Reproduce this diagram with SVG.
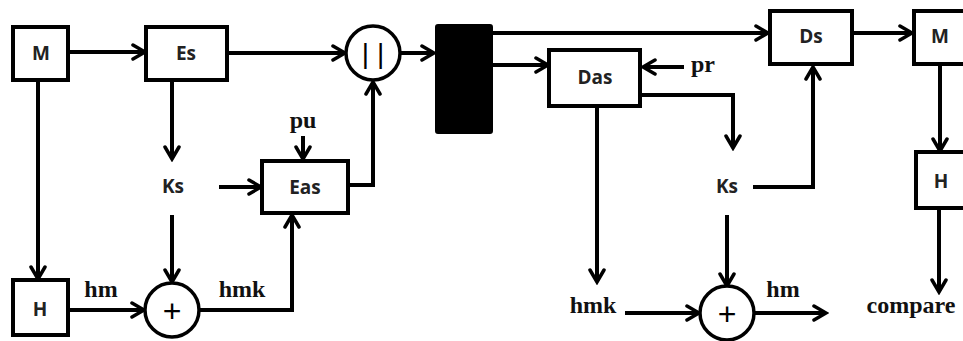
<svg xmlns="http://www.w3.org/2000/svg" width="963" height="341" viewBox="0 0 963 341">
<style>
.box{fill:#fff;stroke:#000;stroke-width:4}
.blk{fill:#000;stroke:#000;stroke-width:2}
.circ{fill:#fff;stroke:#000;stroke-width:3.5}
.ln{fill:none;stroke:#000;stroke-width:4;stroke-linejoin:miter}
.arr{marker-end:url(#ah)}
.lbl{font-family:"Open Sans","Liberation Sans",sans-serif;font-weight:bold;font-size:19px;text-anchor:middle;fill:#222}
.sig{font-family:"Liberation Serif",serif;font-weight:bold;font-size:24px;fill:#111;text-anchor:middle}
.op{font-family:"Liberation Sans",sans-serif;font-size:32px;text-anchor:middle;fill:#000}
</style>
<defs>
<marker id="ah" markerUnits="userSpaceOnUse" markerWidth="18" markerHeight="18" viewBox="0 0 18 18" refX="15" refY="9" orient="auto">
<path d="M3,2 L15,9 L3,16" fill="none" stroke="#000" stroke-width="3.5" stroke-linecap="round"/>
</marker>
</defs>
<rect width="963" height="341" fill="#fff"/>
<g id="connectors">
<line class="ln arr" x1="68" y1="52" x2="145" y2="52"/>
<line class="ln arr" x1="227" y1="53" x2="345" y2="53"/>
<line class="ln arr" x1="38" y1="80" x2="38" y2="279"/>
<line class="ln arr" x1="172" y1="80" x2="172" y2="159"/>
<line class="ln arr" x1="303" y1="136" x2="303" y2="159"/>
<line class="ln arr" x1="219" y1="187" x2="261" y2="187"/>
<line class="ln arr" x1="172" y1="215" x2="172" y2="282"/>
<line class="ln arr" x1="68" y1="310" x2="144" y2="310"/>
<path class="ln arr" d="M200,310 L292,310 L292,215"/>
<path class="ln arr" d="M348,185 L373,185 L373,82"/>
<line class="ln arr" x1="400" y1="53" x2="434" y2="53"/>
<line class="ln arr" x1="492" y1="33" x2="768" y2="33"/>
<line class="ln arr" x1="492" y1="65" x2="548" y2="65"/>
<line class="ln arr" x1="684" y1="67" x2="643" y2="67"/>
<path class="ln arr" d="M640,95 L733,95 L733,148"/>
<path class="ln arr" d="M753,187 L813,187 L813,67"/>
<line class="ln arr" x1="597" y1="106" x2="597" y2="282"/>
<line class="ln arr" x1="625" y1="313" x2="699" y2="313"/>
<line class="ln arr" x1="727" y1="215" x2="727" y2="286"/>
<line class="ln arr" x1="755" y1="313" x2="826" y2="313"/>
<line class="ln arr" x1="852" y1="33" x2="912" y2="33"/>
<line class="ln arr" x1="940" y1="63" x2="940" y2="151"/>
<line class="ln arr" x1="939" y1="208" x2="939" y2="292"/>
</g>
<g id="M1"><rect class="box" x="13" y="27" width="55" height="53"/><text class="lbl" x="41" y="60">M</text></g>
<g id="Es"><rect class="box" x="146" y="27" width="81" height="53"/><text class="lbl" x="186" y="60">Es</text></g>
<g id="Ks1"><text class="lbl" x="173" y="193">Ks</text></g>
<g id="pu"><text class="sig" x="303" y="128">pu</text></g>
<g id="Eas"><rect class="box" x="262" y="161" width="86" height="52"/><text class="lbl" x="305" y="194">Eas</text></g>
<g id="H1"><rect class="box" x="13" y="280" width="55" height="55"/><text class="lbl" x="40" y="316">H</text></g>
<g id="hm1"><text class="sig" x="101" y="297">hm</text></g>
<g id="plus1"><circle class="circ" cx="172" cy="310" r="27"/><text class="op" x="172" y="322">+</text></g>
<g id="hmk1"><text class="sig" x="242" y="297">hmk</text></g>
<g id="concat"><circle class="circ" cx="373" cy="53" r="27"/><text class="op" x="373" y="63" style="font-size:28px">| |</text></g>
<g id="block"><rect class="blk" x="436" y="25" width="56" height="108" rx="2"/></g>
<g id="Das"><rect class="box" x="549" y="50" width="91" height="56"/><text class="lbl" x="595" y="84">Das</text></g>
<g id="pr"><text class="sig" x="703" y="72">pr</text></g>
<g id="Ks2"><text class="lbl" x="727" y="193">Ks</text></g>
<g id="Ds"><rect class="box" x="770" y="11" width="82" height="53"/><text class="lbl" x="811" y="43">Ds</text></g>
<g id="M2"><rect class="box" x="914" y="11" width="60" height="53"/><text class="lbl" x="940" y="43">M</text></g>
<g id="H2"><rect class="box" x="916" y="152" width="60" height="56"/><text class="lbl" x="941" y="188">H</text></g>
<g id="hmk2"><text class="sig" x="593" y="313">hmk</text></g>
<g id="plus2"><circle class="circ" cx="727" cy="313" r="27"/><text class="op" x="727" y="325">+</text></g>
<g id="hm2"><text class="sig" x="783" y="297">hm</text></g>
<g id="compare"><text class="sig" x="911" y="313">compare</text></g>
</svg>
